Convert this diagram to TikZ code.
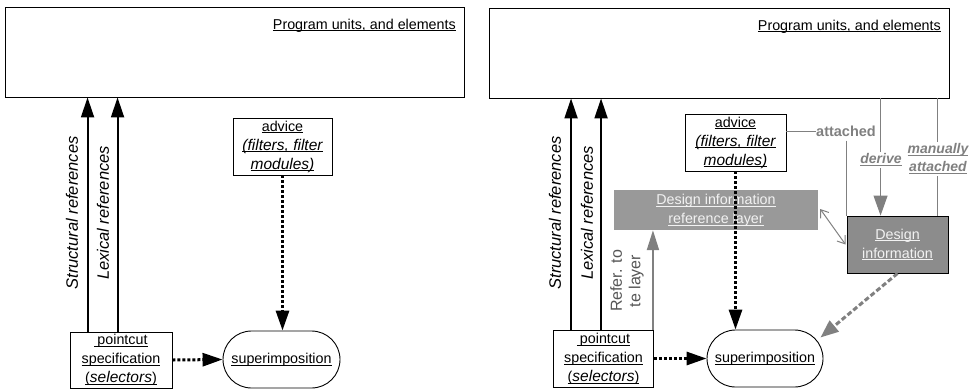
\documentclass[tikz,border=0pt]{standalone}
\usepackage{fontspec}
\setmainfont{Liberation Sans}
\usetikzlibrary{arrows.meta,calc,shapes.misc}
\definecolor{lg}{RGB}{128,128,128}
\definecolor{reftext}{RGB}{85,85,85}
\definecolor{layerfill}{RGB}{153,153,153}
\definecolor{dfill}{RGB}{140,140,140}
\definecolor{ltext}{RGB}{242,242,242}
\newsavebox{\ulnbox}
\newcommand{\uln}[1]{\sbox{\ulnbox}{#1}\rlap{\rule[-2.3pt]{\wd\ulnbox}{0.9pt}}\usebox{\ulnbox}}
\newcommand{\itl}[1]{{\fontsize{15.5}{19}\selectfont\itshape #1}}
\begin{document}
\begin{tikzpicture}[x=1pt,y=-1pt,
  every node/.style={font=\fontsize{14.3}{19}\selectfont, inner sep=0pt},
  box/.style={draw, line width=0.9pt, align=center},
  stad/.style={draw, line width=0.9pt, rounded rectangle, align=center},
  solidarr/.style={line width=2pt, -{Triangle[length=20pt,width=13pt]}},
  dotarr/.style={line width=3pt, dash pattern=on 3pt off 2pt, -{Triangle[length=20pt,width=13pt]}},
  grayarr/.style={lg, line width=2pt, -{Triangle[length=20pt,width=12pt]}},
  graydash/.style={lg, line width=3pt, dash pattern=on 5pt off 2.5pt, -{Triangle[length=18pt,width=14pt]}},
  thingray/.style={lg, line width=1pt},
  rotlab/.style={rotate=90, font=\fontsize{16.5}{19}\selectfont\itshape},
  graylab/.style={lg, fill=white, inner sep=1.5pt, align=center, font=\fontsize{14}{18}\selectfont\bfseries\itshape}
]
\useasboundingbox (0,0) rectangle (976,389);

% ---------------- left panel ----------------
\node[box, minimum width=459, minimum height=90] (topL) at (234.5,52) {};
\node[anchor=base east] (ptL) at (456,29) {\uln{Program units, and elements}};

\node[box, minimum width=99, minimum height=57] (advL) at (282.5,146.5)
  {\uln{advice}\\\uln{\itl{(filters, filter}}\\\uln{\itl{modules)}}};
\node[box, minimum width=102, minimum height=56] (pcL) at (121,360)
  {\uln{\kern3pt pointcut}\\\uln{specification}\\\uln{(\itl{selectors})}};
\node[stad, minimum width=117, minimum height=57] (supL) at (281.5,359.5)
  {\uln{superimposition}};

\coordinate (sL) at ($(pcL.north west)+(18,0)$);
\coordinate (lL) at ($(pcL.north west)+(48,0)$);
\draw[solidarr] (sL) -- (sL |- topL.south);
\draw[solidarr] (lL) -- (lL |- topL.south);
\node[rotlab] (strL) at (72,213) {Structural references};
\node[rotlab] (lexL) at (103,213) {Lexical references};

\draw[dotarr] (advL.south) -- (advL.south |- supL.north);
\draw[dotarr] (pcL.east) -- (supL.west);

% ---------------- right panel ----------------
\node[box, minimum width=460, minimum height=90] (topR) at (719,53) {};
\node[anchor=base east] (ptR) at (941,30) {\uln{Program units, and elements}};

\node[box, minimum width=101, minimum height=57] (advR) at (735.5,142.5)
  {\uln{advice}\\\uln{\itl{(filters, filter}}\\\uln{\itl{modules)}}};
\node[box, minimum width=100, minimum height=57] (pcR) at (603.5,358.5)
  {\uln{\kern3pt pointcut}\\\uln{specification}\\\uln{(\itl{selectors})}};
\node[stad, minimum width=116, minimum height=57] (supR) at (765,358.5)
  {\uln{superimposition}};

\node[fill=layerfill, text=ltext, align=center, minimum width=204, minimum height=40] (layer) at (716,210)
  {\uln{Design information}\\\uln{reference layer}};
\node[box, fill=dfill, text=ltext, minimum width=101, minimum height=57] (design) at (897.5,244.5)
  {\uln{Design}\\\uln{information}};

\coordinate (sR) at ($(pcR.north west)+(18,0)$);
\coordinate (lR) at ($(pcR.north west)+(48,0)$);
\draw[solidarr] (sR) -- (sR |- topR.south);
\draw[solidarr] (lR) -- (lR |- topR.south);
\node[rotlab] (strR) at (555,213) {Structural references};
\node[rotlab] (lexR) at (587,213) {Lexical references};

\coordinate (rA) at ($(pcR.north east)+(-1,0)$);
\draw[grayarr] (rA) -- (rA |- layer.south);
\node[rotate=90, align=center, text=reftext, font=\fontsize{16}{18.5}\selectfont] (refl) at (627,281) {Refer. to\\te layer};

\draw[dotarr] (advR.south) -- (advR.south |- supR.north);
\draw[dotarr] (pcR.east) -- (supR.west);

% derive and manually attached
\coordinate (dv) at ($(design.north west)+(34,0)$);
\draw[thingray, -{Triangle[length=20pt,width=14pt]}] (dv |- topR.south) -- (dv);
\node[graylab] (derl) at (881,160) {\uln{derive}};
\coordinate (ma) at ($(design.north east)+(-11,0)$);
\draw[thingray] (ma |- topR.south) -- (ma);
\node[graylab] (mal) at (938,159) {\uln{manually}\\\uln{attached}};

% attached
\node[lg, font=\fontsize{14.5}{19}\selectfont\bfseries] (att) at (846,131) {attached};
\draw[thingray] (advR.east |- att) -- (att.west);
\draw[thingray] (att.south -| design.north west) ++(0,4) -- (design.north west);

% layer <-> design
\coordinate (lyE) at ($(layer.east)+(2,-1)$);
\coordinate (dsW) at ($(design.west)+(-1,0)$);
\draw[thingray, {Straight Barb[length=7pt,width=10pt]}-{Straight Barb[length=7pt,width=10pt]}] (lyE) -- (dsW);

% design -> superimposition
\coordinate (supTip) at ($(supR.east)+(-3,-21)$);
\draw[graydash] (design.south) -- (supTip);
\end{tikzpicture}
\end{document}
